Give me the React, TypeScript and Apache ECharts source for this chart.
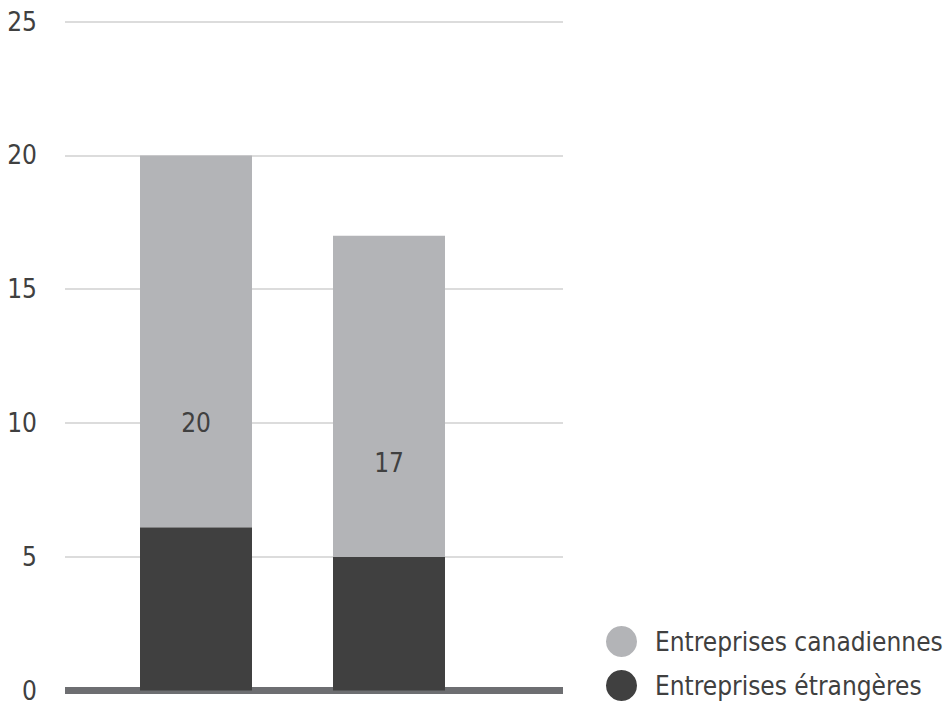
import React, { useEffect, useRef } from "react";
import * as echarts from "echarts";

const categories = ["A", "B"];
const seriesNames = ["Entreprises canadiennes", "Entreprises étrangères"];
const foreignValues = [6.1, 5.0];
const canadianValues = [13.9, 12.0];
const totals = [20, 17];
const yTicks = [0, 5, 10, 15, 20, 25];

const FONT = "'Liberation Sans Narrow', 'DejaVu Sans Condensed', 'Roboto', sans-serif";
const TEXT = "#404040";
const FS = 26;

export default function App() {
  const ref = useRef<HTMLDivElement>(null);
  useEffect(() => {
    document.body.style.margin = "0";
    const chart = echarts.init(ref.current!, null, { renderer: "svg" });
    chart.setOption({
      animation: false,
      textStyle: { fontFamily: FONT },
      grid: [
        { left: 65, right: 384, top: 21.7, bottom: 17.5 },
        { left: 99.5, right: 461.5, top: 21.7, bottom: 17.5 },
      ],
      legend: {
        orient: "vertical",
        left: 601,
        top: 621,
        itemWidth: 31,
        itemHeight: 31,
        itemGap: 13,
        icon: "circle",
        data: seriesNames,
        textStyle: { fontFamily: FONT, fontSize: FS, color: TEXT, padding: [0, 0, 0, 13] },
      },
      xAxis: [
        {
          gridIndex: 0,
          type: "category",
          data: categories,
          offset: 3,
          axisLine: { show: true, lineStyle: { color: "#6d6e71", width: 7, cap: "butt" } },
          axisTick: { show: false },
          axisLabel: { show: false },
        },
        {
          gridIndex: 1,
          type: "category",
          data: categories,
          axisLine: { show: false },
          axisTick: { show: false },
          axisLabel: { show: false },
        },
      ],
      yAxis: [
        {
          gridIndex: 0,
          type: "value",
          min: yTicks[0],
          max: yTicks[yTicks.length - 1],
          interval: 5,
          axisLine: { show: false },
          axisTick: { show: false },
          axisLabel: { fontFamily: FONT, fontSize: FS, color: TEXT, margin: 28 },
          splitLine: { lineStyle: { color: "#d0d0d0", width: 1.5 } },
        },
        {
          gridIndex: 1,
          type: "value",
          min: yTicks[0],
          max: yTicks[yTicks.length - 1],
          interval: 5,
          axisLine: { show: false },
          axisTick: { show: false },
          axisLabel: { show: false },
          splitLine: { show: false },
        },
      ],
      series: [
        {
          name: seriesNames[1],
          type: "bar",
          xAxisIndex: 1,
          yAxisIndex: 1,
          stack: "t",
          barWidth: 112,
          data: foreignValues,
          itemStyle: { color: "#404040" },
        },
        {
          name: seriesNames[0],
          type: "bar",
          xAxisIndex: 1,
          yAxisIndex: 1,
          stack: "t",
          barWidth: 112,
          data: canadianValues,
          itemStyle: { color: "#b3b4b7" },
        },
        {
          name: "total",
          type: "bar",
          xAxisIndex: 1,
          yAxisIndex: 1,
          barWidth: 112,
          barGap: "-100%",
          data: totals,
          itemStyle: { color: "rgba(0,0,0,0)" },
          label: {
            show: true,
            position: "inside",
            fontFamily: FONT,
            fontSize: FS,
            color: TEXT,
          },
          silent: true,
        },
      ],
    });
    return () => chart.dispose();
  }, []);
  return <div ref={ref} style={{ width: 947, height: 708 }} />;
}
